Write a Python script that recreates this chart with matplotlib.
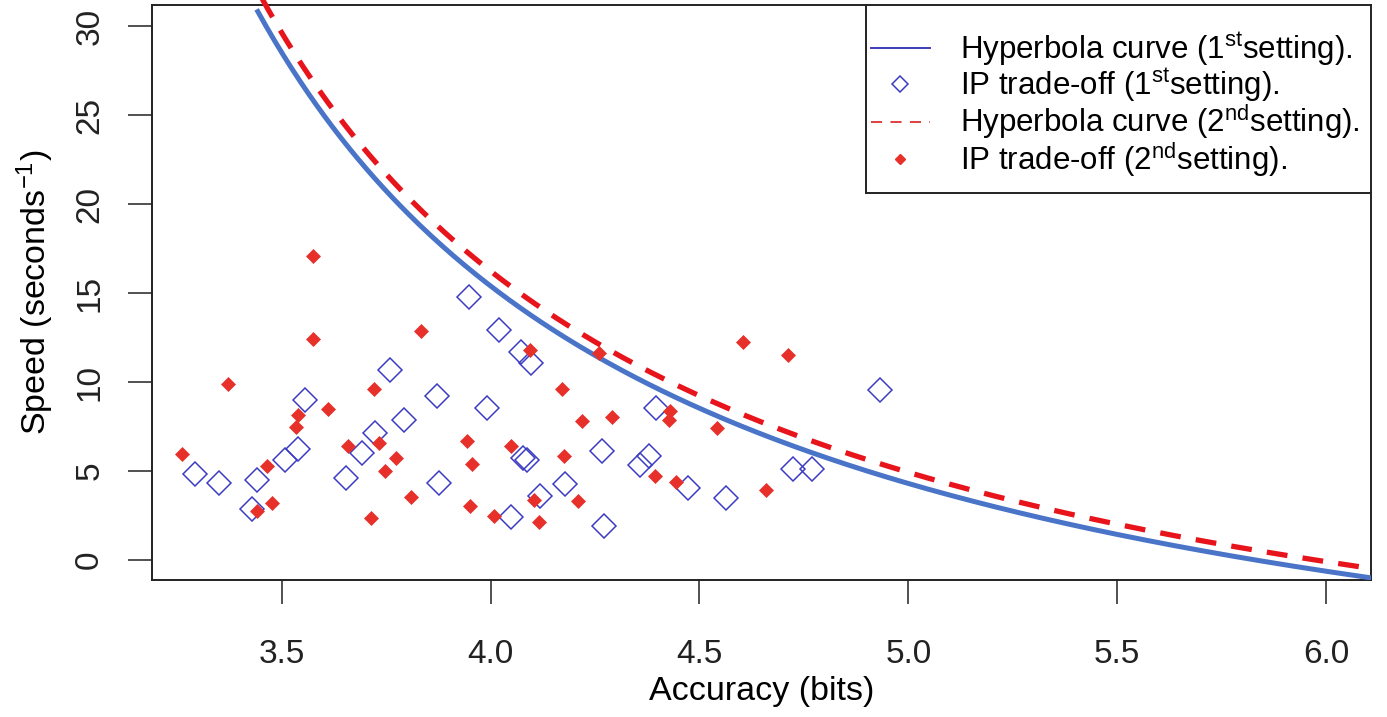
import numpy as np
import matplotlib
matplotlib.use("Agg")
import matplotlib.pyplot as plt
from matplotlib.lines import Line2D
from matplotlib.patches import Rectangle

plt.rcParams['font.family'] = ['Liberation Sans', 'DejaVu Sans']
plt.rcParams['mathtext.fontset'] = 'custom'
plt.rcParams['mathtext.rm'] = 'Liberation Sans'
plt.rcParams['mathtext.it'] = 'Liberation Sans:italic'
plt.rcParams['lines.scale_dashes'] = False

# IP trade-off points, 1st setting (open diamonds)
acc_1st = [3.292, 3.350, 3.440, 3.428, 3.507, 3.538, 3.557, 3.654, 3.693, 3.723,
           3.759, 3.794, 3.877, 3.873, 3.991, 3.949, 4.020, 4.074, 4.097, 4.078,
           4.087, 4.048, 4.118, 4.178, 4.266, 4.272, 4.358, 4.380, 4.395, 4.472,
           4.564, 4.725, 4.770, 4.932]
speed_1st = [4.83, 4.33, 4.51, 2.87, 5.63, 6.24, 9.01, 4.61, 6.04, 7.13,
             10.69, 7.84, 4.33, 9.19, 8.54, 14.76, 12.91, 11.67, 11.07, 5.72,
             5.63, 2.43, 3.57, 4.29, 6.10, 1.93, 5.35, 5.82, 8.54, 4.04,
             3.47, 5.10, 5.10, 9.53]

# IP trade-off points, 2nd setting (filled diamonds)
acc_2nd = [3.262, 3.371, 3.576, 3.576, 3.610, 3.538, 3.534, 3.464, 3.476, 3.442,
           3.659, 3.722, 3.733, 3.773, 3.747, 3.715, 3.810, 3.833, 3.943, 3.955,
           3.950, 4.009, 4.049, 4.094, 4.104, 4.116, 4.170, 4.177, 4.209, 4.220,
           4.291, 4.260, 4.394, 4.430, 4.426, 4.443, 4.541, 4.605, 4.713, 4.660]
speed_2nd = [5.97, 9.89, 17.10, 12.42, 8.48, 8.16, 7.47, 5.26, 3.20, 2.73,
             6.38, 9.61, 6.57, 5.71, 5.03, 2.36, 3.52, 12.88, 6.66, 5.39,
             3.02, 2.45, 6.40, 11.79, 3.39, 2.15, 9.61, 5.86, 3.33, 7.83,
             8.01, 11.63, 4.74, 8.35, 7.84, 4.38, 7.43, 12.26, 11.51, 3.93]

# hyperbola fits: speed = a / (accuracy - b) + c
hyp_1st = (46.11, 2.401, -13.44)
hyp_2nd = (46.85, 2.404, -13.12)

x_ticks = [3.5, 4.0, 4.5, 5.0, 5.5, 6.0]
y_ticks = [0, 5, 10, 15, 20, 25, 30]

labels = [r'Hyperbola curve (1$^{\mathrm{st}}$setting).',
          r'IP trade-off (1$^{\mathrm{st}}$setting).',
          r'Hyperbola curve (2$^{\mathrm{nd}}$setting).',
          r'IP trade-off (2$^{\mathrm{nd}}$setting).']

fig = plt.figure(figsize=(13.87, 7.17), dpi=100)
ax = fig.add_axes([0.1094, 0.1911, 0.8789, 0.8019])

xs = np.linspace(3.443, 6.11, 400)
a, b, c = hyp_1st
ax.plot(xs, a / (xs - b) + c, color="#4a74c8", lw=3.6, zorder=3)
a, b, c = hyp_2nd
ax.plot(xs, a / (xs - b) + c, color="#e8141c", lw=3.8, dashes=(15, 11),
        dash_capstyle='butt', zorder=3, clip_on=False)

ax.plot(acc_1st, speed_1st, ls='none', marker='D', ms=12.5, mfc='none',
        mec="#3c3cc4", mew=1.1, zorder=4)
ax.plot(acc_2nd, speed_2nd, ls='none', marker='D', ms=6.8, mfc="#e8302a",
        mec="#e8302a", mew=0.5, zorder=4)

ax.set_xlim(3.189, 6.107)
ax.set_ylim(-1.12, 31.18)
ax.set_xticks(x_ticks)
ax.set_xticklabels([f"{v:.1f}" for v in x_ticks])
ax.set_yticks(y_ticks)
ax.set_yticklabels([str(v) for v in y_ticks])
ax.tick_params(axis='both', direction='out', length=17.5, width=1.1,
               colors="#222222", labelsize=24)
ax.tick_params(axis='x', pad=25)
ax.tick_params(axis='y', pad=16, labelrotation=90)
for lab in ax.get_yticklabels():
    lab.set_va('center')
for sp in ax.spines.values():
    sp.set_linewidth(1.4)
    sp.set_color("#222222")

ax.set_xlabel("Accuracy (bits)", fontsize=24.5, labelpad=4)
ax.set_ylabel(r"Speed (seconds$^{\mathrm{-1}}$)", fontsize=24.5, labelpad=13)

# legend box (R-style, flush with top right corner)
ax.add_patch(Rectangle((0.586, 0.673), 0.414, 0.327, transform=ax.transAxes,
                       facecolor='white', edgecolor="#222222", lw=1.4, zorder=6))
handles = [
    Line2D([], [], color="#3c3cb8", lw=1.4),
    Line2D([], [], ls='none', marker='D', ms=8, mfc='none', mec="#3c3cc4", mew=1.1),
    Line2D([], [], color="#e04040", lw=1.4, dashes=(8, 6)),
    Line2D([], [], ls='none', marker='D', ms=5, mfc="#e8302a", mec="#e8302a"),
]
leg = ax.legend(handles, labels, loc='upper left', bbox_to_anchor=(0.586, 0.964),
                frameon=False, fontsize=22.5, handlelength=1.9, handletextpad=0.95,
                borderpad=0.15, borderaxespad=0, labelspacing=-0.05)
leg.set_zorder(7)

fig.savefig("out.png", dpi=100)
